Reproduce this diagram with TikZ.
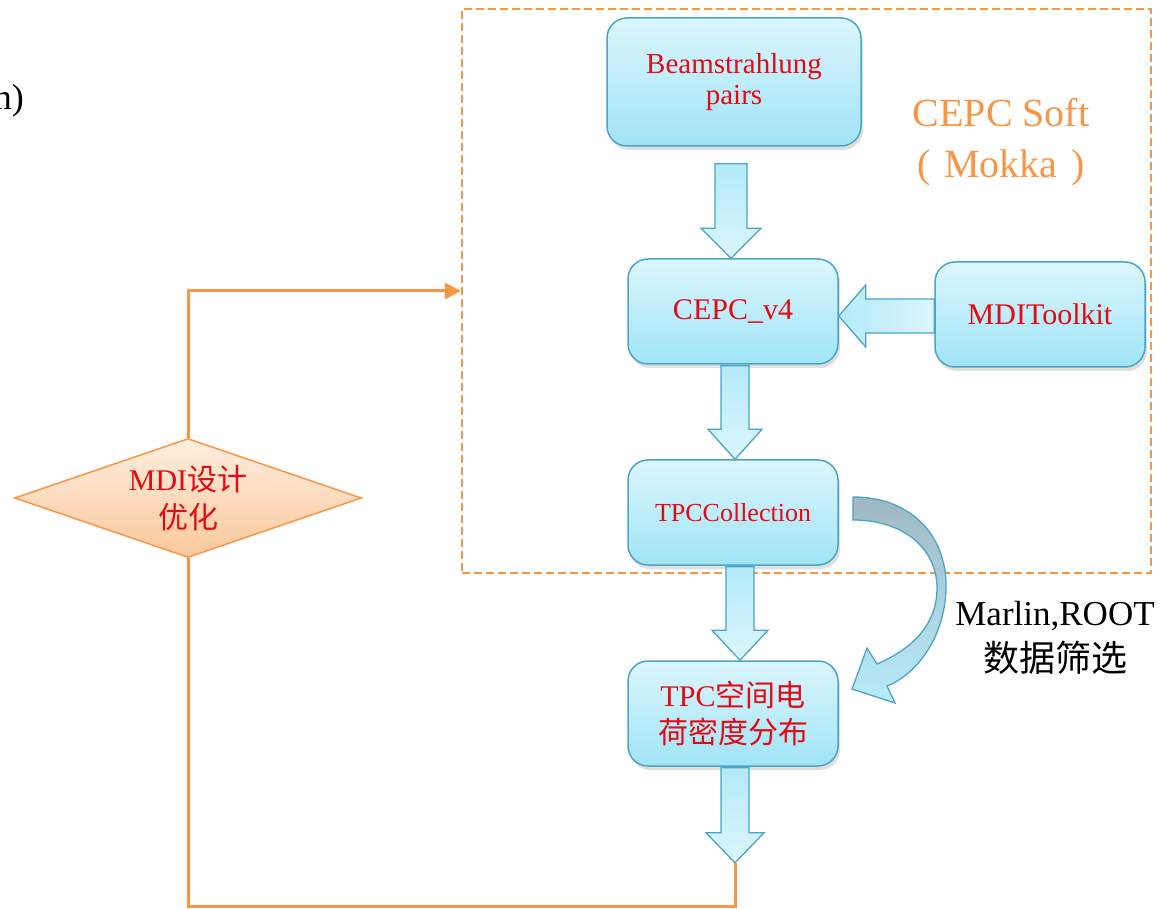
\documentclass[tikz,border=0pt]{standalone}
\usepackage{fontspec}
\setmainfont{Liberation Serif}
\newfontfamily\cjk{Noto Sans CJK SC}
\usetikzlibrary{shapes.geometric,arrows.meta,calc,shadows}
\definecolor{bxborder}{RGB}{75,165,195}
\definecolor{bxtop}{RGB}{220,246,253}
\definecolor{bxbot}{RGB}{160,228,247}
\definecolor{txtred}{RGB}{228,10,20}
\definecolor{orng}{RGB}{247,150,70}
\definecolor{dtop}{RGB}{254,238,222}
\definecolor{dbot}{RGB}{250,200,156}
\definecolor{cgray}{RGB}{160,184,195}
\tikzset{
  box/.style={draw=bxborder, line width=1.5pt, rounded corners=20pt,
    top color=bxtop, bottom color=bxbot, text=txtred, align=center, inner sep=0pt,
    drop shadow={shadow xshift=2pt, shadow yshift=-4pt, opacity=0.25}},
  blk/.style={draw=bxborder, line width=1.3pt, top color=bxbot!80!white, bottom color=bxtop, line join=miter},
  fb/.style={draw=orng, line width=3pt},
}
\newcommand\BlkDown[4]{%
  \path[blk] ($(#1)+(-#3,0)$) -- ($(#1)+(#3,0)$) -- ($(#2)+(#3,-30)$) -- ($(#2)+(#4,-30)$)
    -- (#2) -- ($(#2)+(-#4,-30)$) -- ($(#2)+(-#3,-30)$) -- cycle;}
\begin{document}
\begin{tikzpicture}[x=1pt,y=-1pt]
\useasboundingbox (0,0) rectangle (1163,909);
% dashed frame
\node[draw=orng, line width=2.2pt, dash pattern=on 8pt off 4pt, minimum width=689pt,
  minimum height=564pt, inner sep=0pt] (soft) at (806.5,291) {};
% cut-off text
\node[font=\fontsize{36}{40}\selectfont, anchor=base east, inner sep=0pt] (ncut) at (24,110) {n)};
% boxes
\node[box, minimum width=254pt, minimum height=128pt, font=\fontsize{29}{33}\selectfont] (beam) at (734,82) {\raisebox{-4pt}{\shortstack{Beamstrahlung\\[3pt]pairs}}};
\node[box, minimum width=210pt, minimum height=105pt, font=\fontsize{30}{36}\selectfont] (cepc) at (733,311.5) {CEPC\_v4};
\node[box, minimum width=210pt, minimum height=105pt, font=\fontsize{30}{36}\selectfont] (mdi) at (1040,314.5) {MDIToolkit};
\node[box, minimum width=210pt, minimum height=105pt, font=\fontsize{26}{30}\selectfont] (coll) at (733,512.5) {TPCCollection};
\node[box, minimum width=210pt, minimum height=105pt, font=\fontsize{30}{37}\selectfont] (space) at (733,713.5) {TPC{\cjk 空间电}\\{\cjk 荷密度分布}};
% labels
\node[text=orng, font=\fontsize{40}{50}\selectfont, anchor=base, inner sep=0pt] (softlbl) at (1001,127) {CEPC Soft};
\node[text=orng, font=\fontsize{40}{50}\selectfont, anchor=base, inner sep=0pt] (mokka) at (1001,178) {(\hspace{14pt}Mokka\hspace{14pt})};
\node[font=\fontsize{35}{42}\selectfont, anchor=base, inner sep=0pt] (marlin) at (1055,625) {Marlin,ROOT};
\node[font=\cjk\fontsize{36}{42}\selectfont, anchor=base, inner sep=0pt] (shaixuan) at (1055,671) {数据筛选};
% diamond
\node[diamond, draw=orng, line width=1.5pt, top color=dtop, bottom color=dbot, aspect=2.92,
  minimum width=347pt, minimum height=119pt, inner sep=0pt] (dia) at (188,498) {};
\node[text=txtred, font=\fontsize{30}{38}\selectfont, align=center] (diat) at (dia.center) {MDI{\cjk 设计}\\{\cjk 优化}};
% block arrows
\coordinate (a1s) at ($(beam.south)+(-3,17)$);
\coordinate (a1t) at (a1s |- cepc.north);
\BlkDown{a1s}{a1t}{16}{30}
\coordinate (a2s) at ($(cepc.south)+(2,1)$);
\coordinate (a2t) at (a2s |- coll.north);
\BlkDown{a2s}{a2t}{14}{27}
\coordinate (a3s) at ($(coll.south)+(7,1)$);
\coordinate (a3t) at (a3s |- space.north);
\BlkDown{a3s}{a3t}{14}{28}
\coordinate (a4s) at ($(space.south)+(2,1)$);
\coordinate (a4t) at ($(space.south)+(2,96)$);
\BlkDown{a4s}{a4t}{14}{29}
% horizontal arrow MDIToolkit -> CEPC_v4
\coordinate (h1s) at ($(mdi.west)+(0,1.5)$);
\coordinate (h1t) at (cepc.east |- h1s);
\path[blk, left color=bxbot!80!white, right color=bxtop] ($(h1s)+(0,-17)$) -- ($(h1s)+(0,17)$) -- ($(h1t)+(27,17)$) -- ($(h1t)+(27,31)$)
  -- (h1t) -- ($(h1t)+(27,-31)$) -- ($(h1t)+(27,-17)$) -- cycle;
% curved arrow TPCCollection -> TPC space charge
\path[draw=bxborder, line width=1.3pt, line join=miter, top color=cgray, middle color=cgray!45!bxbot, bottom color=bxbot!60!bxtop]
  (853,497) .. controls (915,497) and (948,540) .. (946,590)
  .. controls (944,640) and (915,675) .. (887,686) -- (895,703) -- (852,689) -- (867,648) -- (877,664)
  .. controls (905,652) and (936,630) .. (937,590)
  .. controls (938,550) and (905,520) .. (853,520) -- cycle;
% feedback loop
\draw[fb, -{Triangle[length=16pt,width=16pt]}] (dia.north) |- (soft.west);
\draw[fb] (a4t) -- ++(0,44) -| (dia.south);
\end{tikzpicture}
\end{document}
